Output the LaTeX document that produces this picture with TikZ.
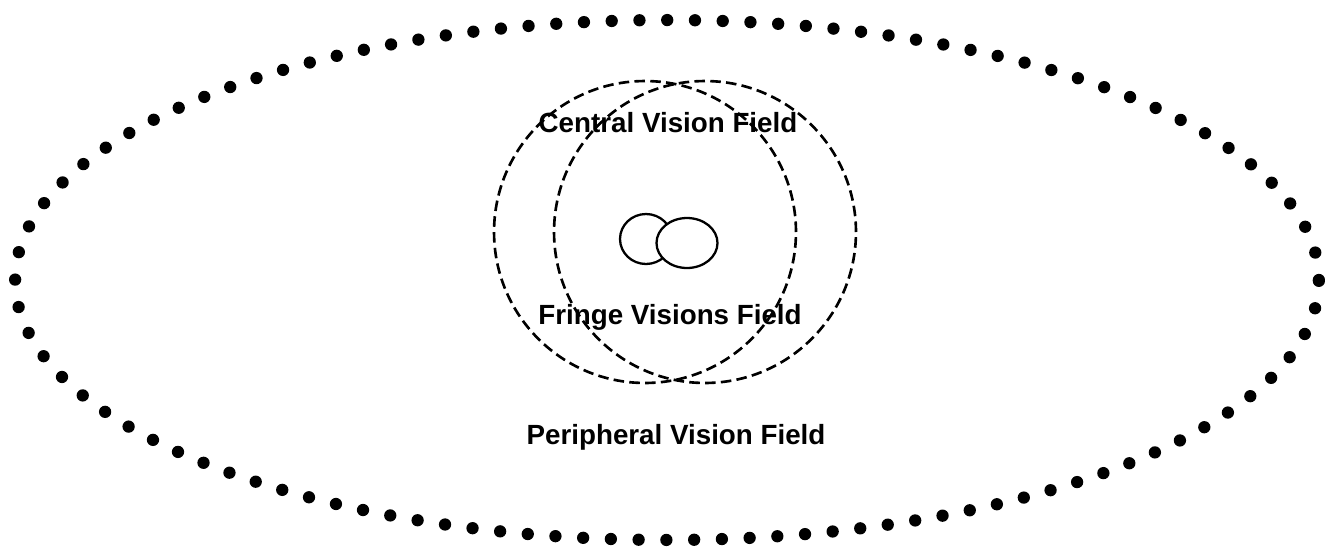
\documentclass[tikz,border=0pt]{standalone}
\usepackage{fontspec}
\setmainfont{Liberation Sans}
\usetikzlibrary{shapes.geometric, positioning}

\begin{document}
\begin{tikzpicture}[
    x=0.02cm, y=-0.02cm,
    field/.style={circle, draw, dash pattern=on 6pt off 3pt, line width=1.5pt,
      minimum size=6.04cm, inner sep=0pt},
    eye/.style={ellipse, draw, fill=white, line width=1.3pt, inner sep=0pt,
      minimum height=1.0cm},
    fieldname/.style={font=\bfseries\fontsize{15.8}{18}\selectfont, inner sep=1pt}
  ]

  \useasboundingbox (0,0) rectangle (1325,548);

  % peripheral field (dotted)
  \node[ellipse, draw, line width=7pt, line cap=round, dash pattern=on 0pt off 15.8pt,
    minimum width=26.08cm, minimum height=10.4cm, inner sep=0pt] (pvf) at (667,280) {};

  % central and fringe fields
  \node[field] (cvf) at (645,232) {};
  \node[field] (fvf) at (705,232) {};

  % eyes
  \node[eye, minimum width=1.04cm] (leye) at (646,239) {};
  \node[eye, minimum width=1.22cm] (reye) at (687,243) {};

  % labels
  \node[fieldname] (cvfname) at (668,123) {Central Vision Field};
  \node[fieldname] (fvfname) at (670,317) {Fringe Visions Field};
  \node[fieldname] (pvfname) at (676,437) {Peripheral Vision Field};

\end{tikzpicture}
\end{document}
